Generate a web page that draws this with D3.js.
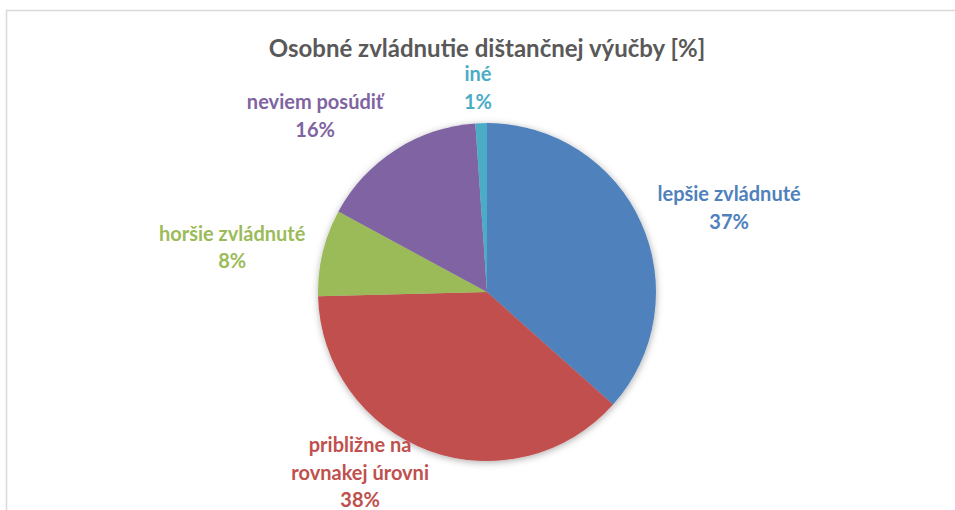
<!DOCTYPE html>
<html>
<head>
<meta charset="utf-8">
<script src="https://cdn.jsdelivr.net/npm/d3@7"></script>
<style>
  body { margin: 0; background: #fff; }
  text { font-family: Lato, "Open Sans", sans-serif; font-weight: bold; }
</style>
</head>
<body>
<div id="chart"></div>
<script>
// data
var categories = ["lepšie zvládnuté", "približne na rovnakej úrovni", "horšie zvládnuté", "neviem posúdiť", "iné"];
var values = [36.6, 38.0, 8.3, 16.0, 1.1];
var colors = ["#4F81BD", "#C0504D", "#9BBB59", "#8064A2", "#4BACC6"];
var labelLines = [["lepšie zvládnuté"], ["približne na", "rovnakej úrovni"], ["horšie zvládnuté"], ["neviem posúdiť"], ["iné"]];
var title = "Osobné zvládnutie dištančnej výučby [%]";

// label anchors (degrees clockwise from 12 o'clock, distance from centre)
var labelAngle = [70.4, 215.4, 280.3, 316, 357.5];
var labelDist = [257, 219, 259, 247.5, 206];

var width = 955, height = 510,
	cx = 487, cy = 292, radius = 169,
	fontSize = 20, lineGap = 27.5;

var svg = d3.select("#chart").append("svg")
	.attr("width", width)
	.attr("height", height);

var defs = svg.append("defs");
var f = defs.append("filter").attr("id", "shadow")
	.attr("x", "-20%").attr("y", "-20%").attr("width", "140%").attr("height", "140%");
f.append("feDropShadow")
	.attr("dx", 0.5).attr("dy", 1.5)
	.attr("stdDeviation", 3.5)
	.attr("flood-color", "#000")
	.attr("flood-opacity", 0.32);

// outer frame of the chart area
svg.append("rect")
	.attr("x", 6.5).attr("y", 10.5)
	.attr("width", 1000).attr("height", 600)
	.attr("fill", "none")
	.attr("stroke", "#d9d9d9")
	.attr("stroke-width", 1.5);

svg.append("text")
	.attr("x", 487).attr("y", 57)
	.attr("text-anchor", "middle")
	.attr("fill", "#595959")
	.style("font-size", "24px")
	.text(title);

var pie = d3.pie().sort(null).value(function (d) { return d; });
var arc = d3.arc().innerRadius(0).outerRadius(radius);
var arcs = pie(values);

var g = svg.append("g")
	.attr("transform", "translate(" + cx + "," + cy + ")");

g.append("g").attr("filter", "url(#shadow)")
	.selectAll("path")
	.data(arcs).enter().append("path")
	.attr("d", arc)
	.attr("fill", function (d, i) { return colors[i]; });

var total = d3.sum(values);
var labels = g.selectAll("g.lbl")
	.data(arcs).enter().append("g")
	.attr("class", "lbl")
	.attr("transform", function (d, i) {
		var a = labelAngle[i] * Math.PI / 180;
		return "translate(" + (Math.sin(a) * labelDist[i]) + "," + (-Math.cos(a) * labelDist[i]) + ")";
	});

labels.each(function (d, i) {
	var lines = labelLines[i].concat([Math.round(values[i] / total * 100) + "%"]);
	var n = lines.length;
	d3.select(this).selectAll("text")
		.data(lines).enter().append("text")
		.attr("text-anchor", "middle")
		.attr("fill", colors[i])
		.style("font-size", fontSize + "px")
		.attr("y", function (t, j) { return (j - (n - 1) / 2) * lineGap + fontSize * 0.45; })
		.text(function (t) { return t; });
});
</script>
</body>
</html>
